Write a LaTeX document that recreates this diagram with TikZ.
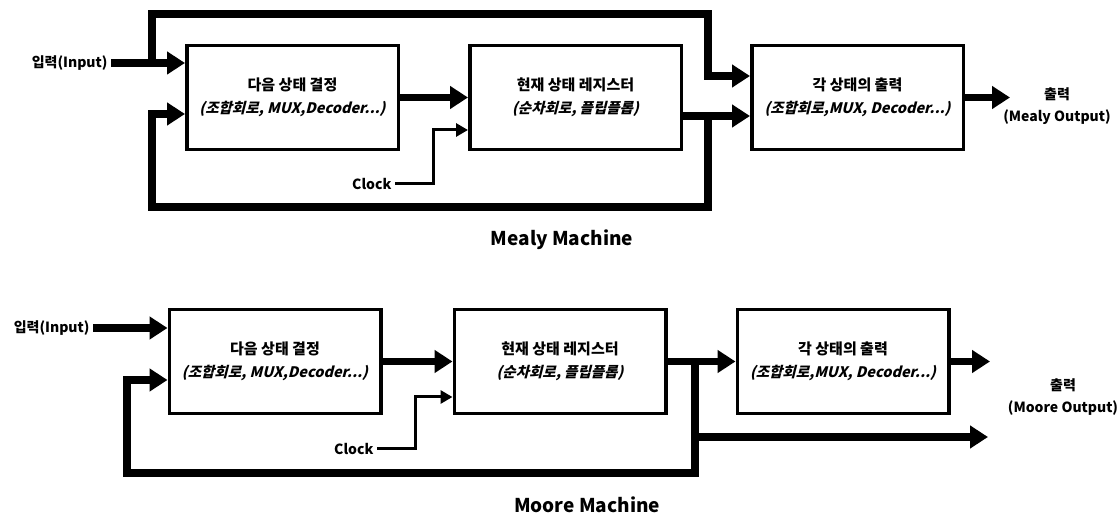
\documentclass[tikz,border=0pt]{standalone}
\usepackage{fontspec}
\setmainfont{Noto Sans CJK KR}
\newfontfamily\slantfont{Noto Sans CJK KR}[FakeSlant=0.25]
\usetikzlibrary{arrows.meta, positioning}
\tikzset{
  state box/.style={
    rectangle, draw, line width=3.5pt, minimum height=104pt,
    minimum width=211.5pt, align=center, inner sep=2pt,
    font=\fontsize{15}{23}\selectfont\bfseries
  },
  tag/.style={align=center, font=\fontsize{14}{22}\selectfont\bfseries},
  title/.style={font=\fontsize{19}{21}\selectfont\bfseries},
  flow/.style={-{Triangle[length=18pt,width=22pt]}, line width=7.5pt},
  clock line/.style={-{Triangle[length=12pt,width=13pt]}, line width=3pt},
}
\newcommand{\sub}[1]{{\slantfont\bfseries\fontsize{14.5}{23}\selectfont #1}}

\begin{document}
\begin{tikzpicture}[x=1pt, y=-1pt]
  \useasboundingbox (0,0) rectangle (1120,518);

  % ── Mealy machine ─────────────────────────────────────────────────────────
  \node[state box] (meNext) at (292.5,97.5)
    {다음 상태 결정\\\sub{(조합회로, MUX,Decoder...)}};
  \node[state box, right=68pt of meNext] (meReg)
    {현재 상태 레지스터\\\sub{(순차회로, 플립플롭)}};
  \node[state box, right=67pt of meReg] (meOut)
    {각 상태의 출력\\\sub{(조합회로,MUX, Decoder...)}};

  \node[tag, anchor=east] (meIn) at (111,63) {입력(Input)};
  \node[tag, anchor=east] (meClk) at (395,184) {Clock};
  \node[tag] (meOutTxt) at (1057,106) {출력\\(Mealy Output)};
  \node[title] (meTitle) at (562,240) {Mealy Machine};

  \coordinate (meTap)   at (152,63);
  \coordinate (meTop)   at (708,14);
  \coordinate (meFb)    at (708,116);
  \coordinate (meBot)   at (152,207);
  \coordinate (meClkUp) at (433,130);
  \coordinate (meEnd)   at (1010,97.5);

  \draw[flow] (meIn.east) -- (meIn -| meNext.west);
  \draw[flow] (meTap) |- (meTop) |- ([yshift=21.5pt]meOut.west);
  \draw[flow] (meNext.east) -- (meReg.west);
  \draw[flow] (meFb -| meReg.east) -- (meFb -| meOut.west);
  \draw[flow] (meFb) |- (meBot) |- ([yshift=-16.5pt]meNext.west);
  \draw[clock line] (meClk.east) -| (meClkUp) -- (meClkUp -| meReg.west);
  \draw[flow] (meOut.east) -- (meEnd);

  % ── Moore machine ─────────────────────────────────────────────────────────
  \node[state box] (moNext) at (275,361.5)
    {다음 상태 결정\\\sub{(조합회로, MUX,Decoder...)}};
  \node[state box, right=70pt of moNext] (moReg)
    {현재 상태 레지스터\\\sub{(순차회로, 플립플롭)}};
  \node[state box, right=68pt of moReg] (moOut)
    {각 상태의 출력\\\sub{(조합회로,MUX, Decoder...)}};

  \node[tag, anchor=east] (moIn) at (93,328) {입력(Input)};
  \node[tag, anchor=east] (moClk) at (377,449) {Clock};
  \node[tag] (moOutTxt) at (1063,397) {출력\\(Moore Output)};
  \node[title] (moTitle) at (587,505) {Moore Machine};

  \coordinate (moTap)   at (695,361.5);
  \coordinate (moBot)   at (127,473);
  \coordinate (moBr)    at (695,437);
  \coordinate (moBrEnd) at (988,437);
  \coordinate (moClkUp) at (415,397);
  \coordinate (moEnd)   at (990,361.5);

  \draw[flow] (moIn.east) -- (moIn -| moNext.west);
  \draw[flow] (moNext.east) -- (moReg.west);
  \draw[flow] (moReg.east) -- (moOut.west);
  \draw[flow] (moTap) |- (moBot) |- ([yshift=-18.5pt]moNext.west);
  \draw[flow] (moBr) -- (moBrEnd);
  \draw[clock line] (moClk.east) -| (moClkUp) -- (moClkUp -| moReg.west);
  \draw[flow] (moOut.east) -- (moEnd);

\end{tikzpicture}
\end{document}
